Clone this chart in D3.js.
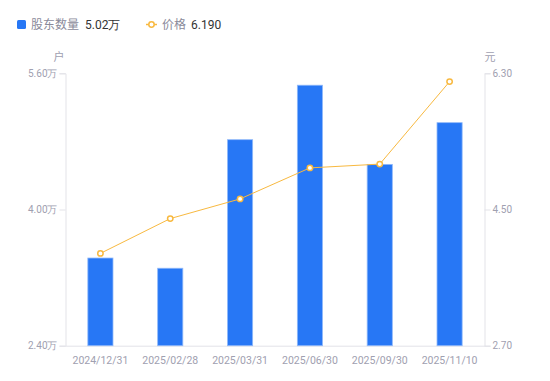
<!DOCTYPE html>
<html><head><meta charset="utf-8">
<script src="https://cdn.jsdelivr.net/npm/d3@7"></script>
<style>body{margin:0;background:#fff;font-family:"Noto Sans CJK SC","Noto Sans",sans-serif;}</style>
</head><body><svg id="c" width="550" height="381"></svg>
<script>
const categories = ["2024/12/31","2025/02/28","2025/03/31","2025/06/30","2025/09/30","2025/11/10"];
const holders = [3.43, 3.31, 4.82, 5.46, 4.53, 5.02]; // 万户
const prices = [3.92, 4.38, 4.64, 5.05, 5.10, 6.19];
const leftTicks = [2.40, 4.00, 5.60];
const rightTicks = [2.70, 4.50, 6.30];

const svg = d3.select("#c");
const m = {l:65.5, r:484.5, t:73.3, b:345.7};
const x = d3.scaleBand().domain(categories).range([m.l, m.r]).paddingInner(0.64).paddingOuter(0.32);
const yL = d3.scaleLinear().domain([2.4, 5.6]).range([m.b, m.t]);
const yR = d3.scaleLinear().domain([2.7, 6.3]).range([m.b, m.t]);
const axisCol = "#e3e3e8", txtCol = "#a0a0b0";

// axes
const gL = svg.append("g").attr("transform",`translate(${m.l},0)`)
  .call(d3.axisLeft(yL).tickValues(leftTicks).tickSize(6).tickPadding(2).tickFormat(d=>d.toFixed(2)+"万"));
const gR = svg.append("g").attr("transform",`translate(${m.r},0)`)
  .call(d3.axisRight(yR).tickValues(rightTicks).tickSize(6).tickPadding(2).tickFormat(d=>d.toFixed(2)));
const gX = svg.append("g").attr("transform",`translate(0,${m.b})`)
  .call(d3.axisBottom(x).tickSize(0).tickPadding(11));
[gL,gR,gX].forEach(g=>{
  g.select(".domain").attr("stroke",axisCol);
  g.selectAll(".tick line").attr("stroke",axisCol);
  g.selectAll("text").attr("fill",txtCol).style("font-size","10px").style("font-family","Roboto,'Noto Sans',sans-serif");
});
gX.selectAll("text").style("font-size","10.5px");

// axis titles
svg.append("text").attr("x",59).attr("y",61).attr("text-anchor","middle").attr("fill",txtCol).style("font-size","11px").text("户");
svg.append("text").attr("x",490).attr("y",61).attr("text-anchor","middle").attr("fill",txtCol).style("font-size","11px").text("元");

// bars
svg.append("g").selectAll("rect").data(holders).join("rect")
  .attr("x",(d,i)=>x(categories[i]))
  .attr("y",d=>yL(d))
  .attr("width",x.bandwidth())
  .attr("height",d=>m.b-yL(d))
  .attr("fill","#2777f5")
  .attr("stroke","#8fb8fa").attr("stroke-width",0.8);

// line
const cx = i => x(categories[i]) + x.bandwidth()/2;
svg.append("path").datum(prices)
  .attr("fill","none").attr("stroke","#f8b940").attr("stroke-width",1)
  .attr("d", d3.line().x((d,i)=>cx(i)).y(d=>yR(d)));
svg.append("g").selectAll("circle").data(prices).join("circle")
  .attr("cx",(d,i)=>cx(i)).attr("cy",d=>yR(d)).attr("r",2.7)
  .attr("fill","#fff").attr("stroke","#f8b940").attr("stroke-width",1.5);

// legend
const lg = svg.append("g").style("font-size","12px");
lg.append("rect").attr("x",17).attr("y",20).attr("width",9).attr("height",9).attr("rx",1.5).attr("fill","#2777f5");
lg.append("text").attr("x",31).attr("y",29).attr("fill","#8a8a9a").text("股东数量");
lg.append("text").attr("x",85).attr("y",29).attr("fill","#333").style("font-family","Roboto,'Noto Sans',sans-serif").text("5.02万");
lg.append("line").attr("x1",146).attr("x2",157).attr("y1",24.5).attr("y2",24.5).attr("stroke","#f8b940").attr("stroke-width",1.5);
lg.append("circle").attr("cx",151.5).attr("cy",24.5).attr("r",2.7).attr("fill","#fff").attr("stroke","#f8b940").attr("stroke-width",1.5);
lg.append("text").attr("x",162).attr("y",29).attr("fill","#8a8a9a").text("价格");
lg.append("text").attr("x",191).attr("y",29).attr("fill","#333").style("font-family","Roboto,'Noto Sans',sans-serif").text("6.190");
</script></body></html>
